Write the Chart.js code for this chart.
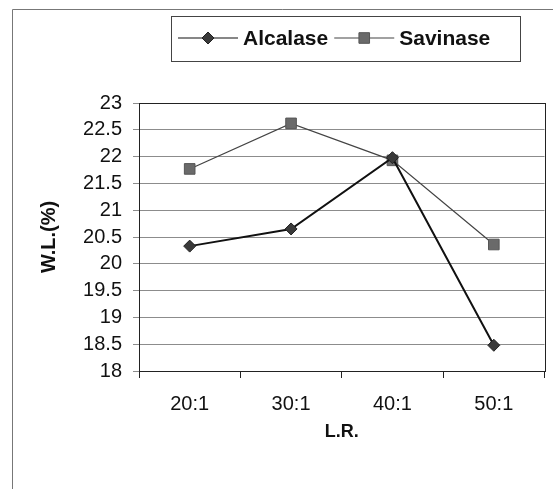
<!DOCTYPE html>
<html>
<head>
<meta charset="utf-8">
<script src="https://cdn.jsdelivr.net/npm/chart.js@4.4.1/dist/chart.umd.min.js"></script>
<style>
  html, body { margin: 0; padding: 0; background: #fff; }
  #wrap { width: 553px; height: 489px; position: relative; }
</style>
</head>
<body>
<div id="wrap"><canvas id="wlChart" width="553" height="489"></canvas></div>
<script>
// --- Data ---
const ratios = ['20:1', '30:1', '40:1', '50:1'];
const alcalase = [20.33, 20.65, 21.98, 18.48];
const savinase = [21.77, 22.62, 21.93, 20.36];
const seriesNames = ['Alcalase', 'Savinase'];
const yMin = 18, yMax = 23, yStep = 0.5;

// --- Outer frame + plot border ---
const framePlugin = {
    id: 'frame',
    beforeDraw(chart) {
        const ctx = chart.ctx;
        ctx.save();
        ctx.fillStyle = '#fff';
        ctx.fillRect(0, 0, chart.width, chart.height);
        ctx.strokeStyle = '#777';
        ctx.lineWidth = 1;
        ctx.beginPath();
        ctx.moveTo(12.5, chart.height);
        ctx.lineTo(12.5, 9.5);
        ctx.lineTo(chart.width, 9.5);
        ctx.stroke();
        ctx.restore();
    },
    afterDatasetsDraw(chart) {
        const a = chart.chartArea;
        const ctx = chart.ctx;
        ctx.save();
        ctx.strokeStyle = '#222';
        ctx.lineWidth = 1;
        ctx.strokeRect(Math.round(a.left) + 0.5, Math.round(a.top) + 0.5,
            Math.round(a.right - a.left), Math.round(a.bottom - a.top));
        ctx.restore();
    }
};

// --- Boxed legend (line + marker + label) ---
const boxLegend = {
    id: 'boxLegend',
    afterDraw(chart) {
        const ctx = chart.ctx;
        const box = { x: 171.5, y: 16.5, w: 349, h: 45 };
        const cy = 38;
        ctx.save();
        ctx.strokeStyle = '#444';
        ctx.lineWidth = 1;
        ctx.strokeRect(box.x, box.y, box.w, box.h);
        ctx.font = 'bold 21px "Liberation Sans", Arial, sans-serif';
        ctx.textBaseline = 'middle';
        let x = 178;
        chart.data.datasets.forEach(ds => {
            const len = 60;
            ctx.strokeStyle = ds.borderColor;
            ctx.lineWidth = 1.2;
            ctx.beginPath();
            ctx.moveTo(x, cy);
            ctx.lineTo(x + len, cy);
            ctx.stroke();
            ctx.fillStyle = ds.pointBackgroundColor;
            ctx.strokeStyle = ds.pointBorderColor;
            ctx.lineWidth = 1;
            Chart.helpers.drawPoint(ctx, {
                pointStyle: ds.pointStyle,
                radius: ds.pointRadius,
                borderWidth: 1,
                rotation: 0
            }, x + len / 2, cy);
            ctx.fillStyle = '#111';
            ctx.fillText(ds.label, x + len + 5, cy + 1);
            x += len + 5 + ctx.measureText(ds.label).width + 6;
        });
        ctx.restore();
    }
};

// --- Chart ---
const ctx = document.getElementById('wlChart').getContext('2d');
new Chart(ctx, {
    type: 'line',
    data: {
        labels: ratios,
        datasets: [{
            label: seriesNames[0],
            data: alcalase,
            borderColor: '#111',
            borderWidth: 2,
            pointStyle: 'rectRot',
            pointRadius: 6,
            pointBackgroundColor: '#3a3a3a',
            pointBorderColor: '#222',
            pointBorderWidth: 1
        }, {
            label: seriesNames[1],
            data: savinase,
            borderColor: '#444',
            borderWidth: 1.2,
            pointStyle: 'rect',
            pointRadius: 7.5,
            pointBackgroundColor: '#6a6a6a',
            pointBorderColor: '#555',
            pointBorderWidth: 1
        }]
    },
    options: {
        responsive: false,
        animation: false,
        devicePixelRatio: 1,
        layout: { padding: { top: 103, right: 8, left: 0, bottom: 0 } },
        plugins: {
            legend: { display: false },
            tooltip: { enabled: false }
        },
        scales: {
            x: {
                offset: true,
                afterFit(scale) { scale.height = 118; },
                grid: { offset: true, drawOnChartArea: false, tickLength: 7, color: '#222' },
                border: { color: '#222' },
                ticks: {
                    color: '#111',
                    padding: 14,
                    font: { family: '"Liberation Sans", Arial, sans-serif', size: 20 }
                },
                title: {
                    display: true,
                    text: 'L.R.',
                    color: '#111',
                    padding: { top: 0, bottom: 46 },
                    font: { family: '"Liberation Sans", Arial, sans-serif', size: 18, weight: 'bold' }
                }
            },
            y: {
                min: yMin,
                max: yMax,
                afterFit(scale) { scale.width = 139; },
                grid: { color: '#8c8c8c', tickLength: 6, lineWidth: 1 },
                border: { color: '#222' },
                ticks: {
                    stepSize: yStep,
                    autoSkip: false,
                    color: '#111',
                    padding: 11,
                    callback: v => String(v),
                    font: { family: '"Liberation Sans", Arial, sans-serif', size: 20 }
                },
                title: {
                    display: true,
                    text: 'W.L.(%)',
                    color: '#111',
                    padding: { top: 37, bottom: 0 },
                    font: { family: '"Liberation Sans", Arial, sans-serif', size: 20, weight: 'bold' }
                }
            }
        }
    },
    plugins: [framePlugin, boxLegend]
});
</script>
</body>
</html>
